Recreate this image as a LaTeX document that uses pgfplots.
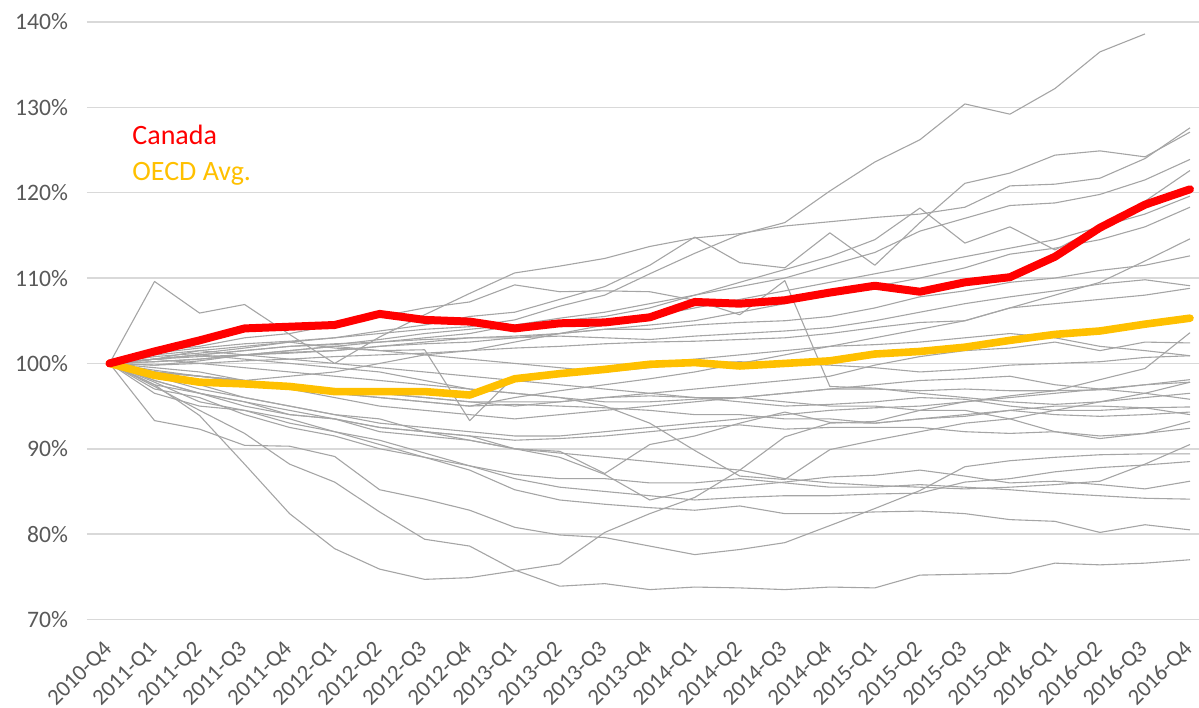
\documentclass[border=0pt]{standalone}
\usepackage{fontspec}
\setmainfont{Carlito}
\usepackage{pgfplots}
\pgfplotsset{compat=1.18}
\definecolor{canred}{RGB}{255,0,0}
\definecolor{oecdgold}{RGB}{255,192,0}
\definecolor{linegray}{RGB}{165,165,165}
\definecolor{gridgray}{RGB}{217,217,217}
\definecolor{labelgray}{RGB}{89,89,89}

\begin{document}
\begin{tikzpicture}
\begin{axis}[
    scale only axis,
    width=556pt, height=298.75pt,
    xmin=-0.5, xmax=24.2,
    ymin=70, ymax=140,
    xtick={0,...,24},
    xticklabels={2010-Q4,2011-Q1,2011-Q2,2011-Q3,2011-Q4,2012-Q1,2012-Q2,2012-Q3,2012-Q4,2013-Q1,2013-Q2,2013-Q3,2013-Q4,2014-Q1,2014-Q2,2014-Q3,2014-Q4,2015-Q1,2015-Q2,2015-Q3,2015-Q4,2016-Q1,2016-Q2,2016-Q3,2016-Q4},
    ytick={70,80,90,100,110,120,130,140},
    yticklabels={70\%,80\%,90\%,100\%,110\%,120\%,130\%,140\%},
    ymajorgrids=true,
    grid style={gridgray, line width=0.75pt},
    axis line style={draw=none},
    major tick length=0pt,
    tick label style={text=labelgray},
    yticklabel style={font=\fontsize{11.8}{14}\selectfont, xshift=-6pt},
    xticklabel style={font=\fontsize{11.4}{13}\selectfont, xshift=1.75pt, yshift=-15.25pt, rotate=45, anchor=base east, inner sep=0pt},
    gray/.style={linegray, line width=0.55pt, mark=none, line join=round},
    clip=false
]

% other OECD countries
\addplot[gray] coordinates {(0,100) (1,101.2) (2,101.8) (3,102.3) (4,102.6) (5,103.0) (6,103.5) (7,104.0) (8,104.3) (9,105.1) (10,106.7) (11,108.0) (12,110.5) (13,112.9) (14,115.1) (15,116.5) (16,120.2) (17,123.6) (18,126.2) (19,130.4) (20,129.2) (21,132.2) (22,136.5) (23,138.6)};
\addplot[gray] coordinates {(0,100) (1,109.6) (2,105.9) (3,106.9) (4,103.4) (5,100.0) (6,103.1) (7,105.7) (8,108.2) (9,110.6) (10,111.4) (11,112.3) (12,113.7) (13,114.7) (14,115.2) (15,116.1) (16,116.6) (17,117.1) (18,117.5) (19,118.3) (20,120.8) (21,121.0) (22,121.7) (23,124.0) (24,127.6)};
\addplot[gray] coordinates {(0,100) (1,100.8) (2,101.2) (3,101.8) (4,102.5) (5,103.0) (6,103.8) (7,104.5) (8,105.5) (9,106.0) (10,107.5) (11,109.0) (12,111.5) (13,114.8) (14,111.8) (15,111.2) (16,115.3) (17,111.5) (18,116.5) (19,121.1) (20,122.3) (21,124.4) (22,124.9) (23,124.2) (24,127.1)};
\addplot[gray] coordinates {(0,100) (1,100.5) (2,101.0) (3,101.5) (4,102.0) (5,102.2) (6,102.8) (7,103.5) (8,104.0) (9,104.5) (10,105.3) (11,106.0) (12,107.0) (13,108.0) (14,109.0) (15,110.0) (16,111.5) (17,113.0) (18,115.5) (19,117.0) (20,118.5) (21,118.8) (22,119.8) (23,121.5) (24,123.9)};
\addplot[gray] coordinates {(0,100) (1,99.8) (2,100.3) (3,101.0) (4,101.5) (5,102.0) (6,102.5) (7,103.0) (8,103.5) (9,104.5) (10,105.0) (11,105.5) (12,106.5) (13,108.0) (14,109.5) (15,111.0) (16,112.5) (17,114.5) (18,118.2) (19,114.1) (20,116.0) (21,113.3) (22,116.0) (23,119.0) (24,122.6)};
\addplot[gray] coordinates {(0,100) (1,99.0) (2,98.5) (3,98.0) (4,98.5) (5,99.0) (6,100.0) (7,101.0) (8,101.5) (9,102.5) (10,103.5) (11,104.5) (12,105.5) (13,106.5) (14,107.5) (15,108.5) (16,109.5) (17,110.5) (18,111.5) (19,112.5) (20,113.5) (21,114.5) (22,116.0) (23,117.5) (24,119.6)};
\addplot[gray] coordinates {(0,100) (1,100.2) (2,100.5) (3,101.0) (4,101.2) (5,101.5) (6,102.0) (7,102.5) (8,103.0) (9,103.0) (10,103.5) (11,104.0) (12,104.5) (13,105.0) (14,106.0) (15,107.0) (16,108.5) (17,109.0) (18,110.0) (19,111.2) (20,112.8) (21,113.5) (22,114.5) (23,116.0) (24,118.3)};
\addplot[gray] coordinates {(0,100) (1,99.2) (2,98.5) (3,97.8) (4,97.0) (5,96.5) (6,96.0) (7,95.5) (8,95.0) (9,96.0) (10,96.8) (11,97.5) (12,98.2) (13,99.0) (14,100.0) (15,101.0) (16,102.0) (17,103.0) (18,104.0) (19,105.0) (20,106.5) (21,108.0) (22,109.5) (23,112.0) (24,114.6)};
\addplot[gray] coordinates {(0,100) (1,100.5) (2,101.0) (3,101.5) (4,102.0) (5,102.3) (6,102.5) (7,102.8) (8,103.0) (9,103.2) (10,103.5) (11,104.0) (12,104.0) (13,104.5) (14,104.8) (15,105.0) (16,105.5) (17,106.5) (18,107.8) (19,108.5) (20,109.5) (21,110.0) (22,110.9) (23,111.5) (24,112.6)};
\addplot[gray] coordinates {(0,100) (1,100.2) (2,100.5) (3,101.0) (4,101.3) (5,101.5) (6,102.0) (7,102.3) (8,102.5) (9,103.0) (10,103.2) (11,103.0) (12,102.8) (13,103.2) (14,103.5) (15,103.8) (16,104.2) (17,105.0) (18,106.0) (19,107.0) (20,107.8) (21,108.5) (22,109.3) (23,109.8) (24,109.1)};
\addplot[gray] coordinates {(0,100) (1,99.8) (2,100.0) (3,100.3) (4,100.5) (5,100.8) (6,101.0) (7,101.2) (8,101.5) (9,101.8) (10,102.0) (11,102.3) (12,102.5) (13,102.6) (14,102.8) (15,103.0) (16,103.5) (17,104.2) (18,104.8) (19,105.0) (20,106.5) (21,107.0) (22,107.5) (23,108.0) (24,108.8)};
\addplot[gray] coordinates {(0,100) (1,97.5) (2,93.9) (3,88.2) (4,82.4) (5,78.3) (6,75.9) (7,74.7) (8,74.9) (9,75.7) (10,76.5) (11,80.2) (12,82.4) (13,84.3) (14,87.5) (15,91.4) (16,93.0) (17,93.2) (18,94.5) (19,95.5) (20,96.2) (21,96.8) (22,98.1) (23,99.4) (24,103.6)};
\addplot[gray] coordinates {(0,100) (1,99.0) (2,98.5) (3,98.0) (4,97.5) (5,97.0) (6,96.5) (7,96.0) (8,95.5) (9,95.0) (10,95.5) (11,96.0) (12,96.5) (13,97.0) (14,97.5) (15,98.0) (16,98.5) (17,99.8) (18,100.8) (19,101.5) (20,101.8) (21,102.5) (22,101.5) (23,102.5) (24,102.4)};
\addplot[gray] coordinates {(0,100) (1,100.5) (2,100.8) (3,101.0) (4,101.5) (5,102.0) (6,101.5) (7,101.0) (8,100.5) (9,100.0) (10,99.5) (11,99.0) (12,99.5) (13,100.0) (14,100.2) (15,100.0) (16,99.8) (17,99.5) (18,99.0) (19,99.3) (20,99.8) (21,100.0) (22,100.2) (23,100.7) (24,100.9)};
\addplot[gray] coordinates {(0,100) (1,99.0) (2,98.0) (3,97.5) (4,97.0) (5,96.0) (6,95.0) (7,94.5) (8,94.0) (9,93.5) (10,94.0) (11,94.5) (12,95.0) (13,95.5) (14,96.0) (15,96.5) (16,97.0) (17,97.0) (18,96.8) (19,97.0) (20,96.8) (21,96.8) (22,96.9) (23,97.5) (24,98.1)};
\addplot[gray] coordinates {(0,100) (1,98.5) (2,97.0) (3,96.0) (4,95.0) (5,94.0) (6,93.0) (7,92.5) (8,92.0) (9,91.5) (10,91.5) (11,92.0) (12,92.5) (13,93.0) (14,93.5) (15,94.0) (16,94.5) (17,94.8) (18,95.0) (19,95.5) (20,96.0) (21,96.5) (22,97.0) (23,97.5) (24,97.8)};
\addplot[gray] coordinates {(0,100) (1,100.5) (2,100.0) (3,99.5) (4,99.0) (5,98.5) (6,98.0) (7,97.5) (8,97.0) (9,96.5) (10,96.0) (11,95.5) (12,95.5) (13,95.8) (14,96.0) (15,96.5) (16,97.0) (17,97.5) (18,98.0) (19,98.2) (20,98.5) (21,97.5) (22,97.0) (23,96.5) (24,95.8)};
\addplot[gray] coordinates {(0,100) (1,101.0) (2,101.5) (3,101.0) (4,100.5) (5,100.0) (6,99.5) (7,99.0) (8,98.5) (9,98.0) (10,97.5) (11,97.0) (12,96.5) (13,96.0) (14,95.5) (15,95.0) (16,95.2) (17,95.5) (18,96.0) (19,95.8) (20,95.0) (21,94.5) (22,94.5) (23,94.8) (24,94.9)};
\addplot[gray] coordinates {(0,100) (1,99.5) (2,99.0) (3,98.0) (4,97.0) (5,96.5) (6,96.0) (7,95.5) (8,95.0) (9,95.2) (10,95.0) (11,94.8) (12,94.5) (13,94.0) (14,94.0) (15,93.5) (16,93.5) (17,93.0) (18,93.5) (19,93.8) (20,94.5) (21,94.0) (22,93.8) (23,94.0) (24,94.3)};
\addplot[gray] coordinates {(0,100) (1,99.0) (2,98.5) (3,98.0) (4,97.5) (5,97.0) (6,96.5) (7,96.0) (8,95.5) (9,95.5) (10,95.5) (11,96.0) (12,96.2) (13,96.0) (14,96.0) (15,95.5) (16,95.0) (17,95.0) (18,94.5) (19,94.5) (20,93.5) (21,92.0) (22,91.2) (23,91.8) (24,93.2)};
\addplot[gray] coordinates {(0,100) (1,98.0) (2,96.5) (3,95.0) (4,94.0) (5,93.5) (6,92.5) (7,92.0) (8,91.5) (9,91.0) (10,91.2) (11,91.5) (12,92.0) (13,92.5) (14,92.8) (15,92.3) (16,92.5) (17,92.5) (18,92.5) (19,92.0) (20,91.8) (21,92.0) (22,91.5) (23,91.8) (24,92.4)};
\addplot[gray] coordinates {(0,100) (1,93.3) (2,92.3) (3,90.4) (4,90.3) (5,89.1) (6,85.2) (7,84.1) (8,82.8) (9,80.8) (10,79.9) (11,79.6) (12,78.6) (13,77.6) (14,78.2) (15,79.0) (16,81.0) (17,83.0) (18,85.1) (19,87.9) (20,88.6) (21,89.0) (22,89.3) (23,89.4) (24,89.4)};
\addplot[gray] coordinates {(0,100) (1,98.5) (2,97.5) (3,96.0) (4,95.0) (5,94.0) (6,93.5) (7,92.0) (8,91.0) (9,90.0) (10,89.5) (11,89.0) (12,88.5) (13,88.0) (14,87.5) (15,86.5) (16,86.0) (17,85.7) (18,85.5) (19,85.3) (20,85.5) (21,85.8) (22,86.2) (23,88.2) (24,90.5)};
\addplot[gray] coordinates {(0,100) (1,97.0) (2,96.0) (3,94.0) (4,92.5) (5,91.5) (6,90.0) (7,89.0) (8,88.0) (9,86.5) (10,85.5) (11,85.0) (12,84.5) (13,84.0) (14,84.3) (15,84.5) (16,84.5) (17,84.7) (18,84.8) (19,86.1) (20,86.5) (21,87.3) (22,87.8) (23,88.1) (24,88.5)};
\addplot[gray] coordinates {(0,100) (1,97.5) (2,96.5) (3,95.5) (4,94.5) (5,93.5) (6,92.0) (7,91.5) (8,91.0) (9,90.0) (10,89.0) (11,87.0) (12,84.0) (13,85.2) (14,85.6) (15,86.1) (16,86.7) (17,86.9) (18,87.5) (19,86.8) (20,86.0) (21,86.2) (22,85.8) (23,85.3) (24,86.2)};
\addplot[gray] coordinates {(0,100) (1,96.5) (2,95.0) (3,94.5) (4,93.0) (5,92.0) (6,91.0) (7,89.5) (8,88.0) (9,87.0) (10,86.5) (11,86.5) (12,86.0) (13,86.0) (14,86.5) (15,86.0) (16,85.5) (17,85.5) (18,85.8) (19,85.5) (20,85.2) (21,84.8) (22,84.5) (23,84.2) (24,84.1)};
\addplot[gray] coordinates {(0,100) (1,97.8) (2,95.5) (3,94.5) (4,93.5) (5,92.0) (6,90.5) (7,89.0) (8,87.5) (9,85.2) (10,84.0) (11,83.5) (12,83.1) (13,82.8) (14,83.3) (15,82.4) (16,82.4) (17,82.6) (18,82.7) (19,82.4) (20,81.7) (21,81.5) (22,80.2) (23,81.1) (24,80.5)};
\addplot[gray] coordinates {(0,100) (1,97.3) (2,94.5) (3,91.8) (4,88.2) (5,86.1) (6,82.6) (7,79.4) (8,78.6) (9,75.8) (10,73.9) (11,74.2) (12,73.5) (13,73.8) (14,73.7) (15,73.5) (16,73.8) (17,73.7) (18,75.2) (19,75.3) (20,75.4) (21,76.6) (22,76.4) (23,76.6) (24,77.0)};
\addplot[gray] coordinates {(0,100) (1,98.0) (2,96.5) (3,95.5) (4,94.0) (5,93.5) (6,92.5) (7,92.0) (8,91.5) (9,90.0) (10,89.7) (11,87.1) (12,90.5) (13,91.5) (14,93.0) (15,94.3) (16,93.1) (17,93.0) (18,93.5) (19,94.0) (20,94.5) (21,95.0) (22,95.0) (23,94.8) (24,94.0)};
\addplot[gray] coordinates {(0,100) (1,101.5) (2,102.0) (3,103.0) (4,103.5) (5,104.5) (6,105.5) (7,106.5) (8,107.2) (9,109.2) (10,108.4) (11,108.5) (12,108.4) (13,107.4) (14,105.7) (15,109.7) (16,97.3) (17,97.1) (18,96.5) (19,96.0) (20,95.5) (21,95.2) (22,95.5) (23,96.5) (24,97.8)};
\addplot[gray] coordinates {(0,100) (1,100.5) (2,101.0) (3,100.5) (4,100.0) (5,99.5) (6,99.0) (7,98.0) (8,97.0) (9,96.5) (10,96.0) (11,95.0) (12,93.0) (13,89.8) (14,86.8) (15,86.4) (16,89.9) (17,91.0) (18,92.0) (19,93.0) (20,93.5) (21,94.5) (22,95.5) (23,96.0) (24,96.5)};
\addplot[gray] coordinates {(0,100) (1,100.5) (2,101.5) (3,102.0) (4,102.5) (5,101.8) (6,101.5) (7,101.6) (8,93.3) (9,98.5) (10,99.0) (11,99.5) (12,100.0) (13,100.5) (14,101.0) (15,101.5) (16,102.0) (17,102.2) (18,102.5) (19,103.0) (20,103.5) (21,103.0) (22,102.0) (23,101.5) (24,100.9)};

% OECD average
\addplot[oecdgold, line width=3.8pt, line join=round, line cap=round, mark=none] coordinates {
    (0,100) (1,98.6) (2,97.8) (3,97.6) (4,97.3) (5,96.7) (6,96.7) (7,96.7) (8,96.3)
    (9,98.2) (10,98.8) (11,99.3) (12,99.9) (13,100.1) (14,99.7) (15,100.0) (16,100.3)
    (17,101.1) (18,101.4) (19,101.9) (20,102.7) (21,103.4) (22,103.8) (23,104.6) (24,105.3)
};

% Canada
\addplot[canred, line width=4pt, line join=round, line cap=round, mark=none] coordinates {
    (0,100) (1,101.4) (2,102.7) (3,104.1) (4,104.3) (5,104.5) (6,105.8) (7,105.1) (8,104.9)
    (9,104.1) (10,104.7) (11,104.8) (12,105.4) (13,107.2) (14,107.0) (15,107.4) (16,108.3)
    (17,109.1) (18,108.4) (19,109.5) (20,110.1) (21,112.5) (22,115.9) (23,118.6) (24,120.4)
};

\node[anchor=base west, inner sep=0pt, text=canred, font=\fontsize{14}{16}\selectfont] at (axis cs:0.5,125.6) {Canada};
\node[anchor=base west, inner sep=0pt, text=oecdgold, font=\fontsize{14}{16}\selectfont] at (axis cs:0.5,121.4) {OECD Avg.};
\end{axis}
\pgfresetboundingbox
\path ([shift={(-43.5pt,-44.25pt)}]current axis.south west) rectangle ([shift={(0pt,11pt)}]current axis.north east);
\end{tikzpicture}
\end{document}
